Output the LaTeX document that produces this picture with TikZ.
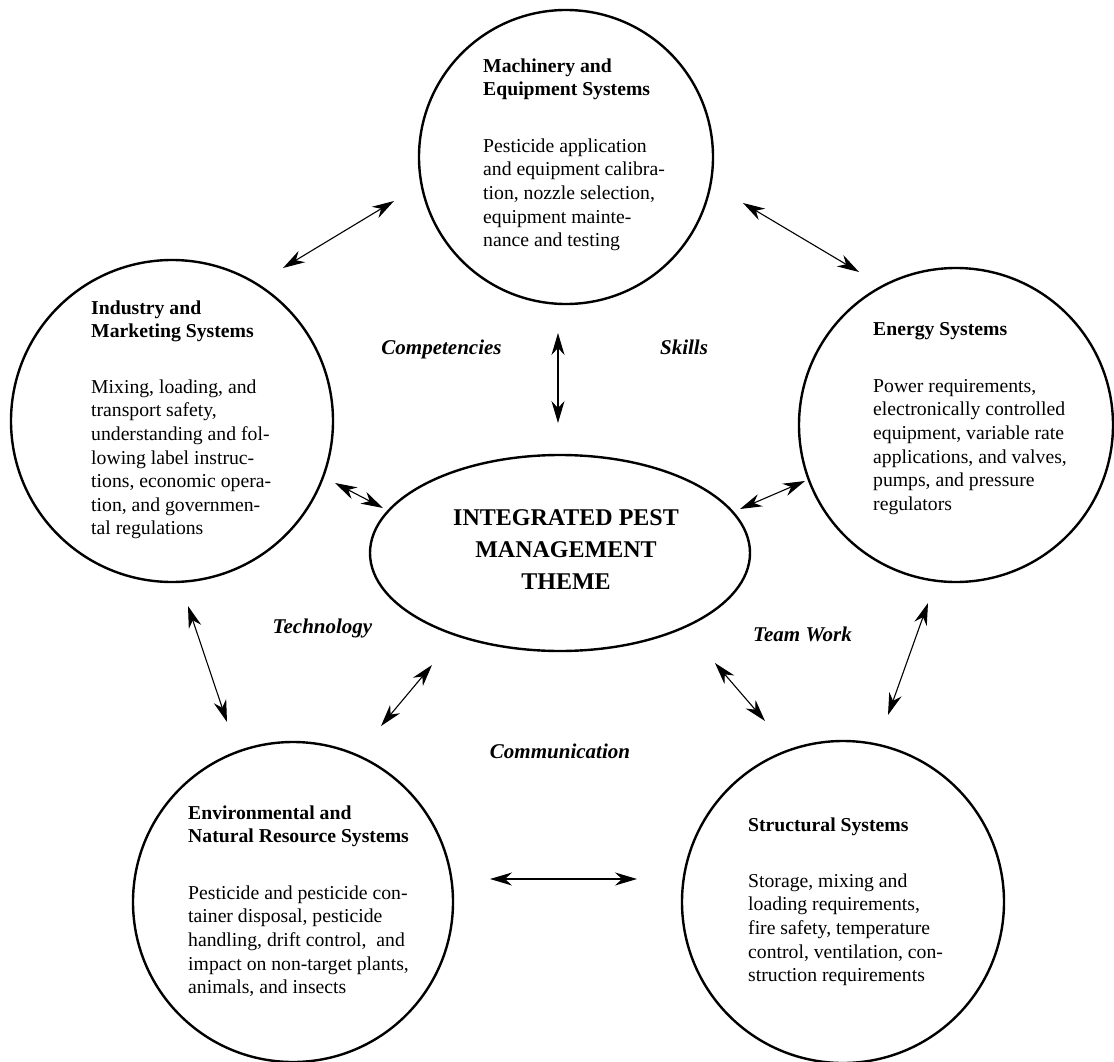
\documentclass[tikz,border=0pt]{standalone}
\usepackage{fontspec}
\setmainfont{Liberation Serif}
\usetikzlibrary{arrows.meta,shapes.geometric}
\newcommand\hdfont{\fontsize{19.7}{23.6}\selectfont\bfseries}
\newcommand\bdfont{\fontsize{19.7}{23.6}\selectfont}
\newcommand\lbfont{\fontsize{21}{25}\selectfont\bfseries\itshape}
\newcommand\ttlfont{\fontsize{24}{32}\selectfont\bfseries}
\begin{document}
\begin{tikzpicture}[x=1pt,y=-1pt,
  sys/.style={circle,draw,line width=2.4pt,inner sep=0pt},
  hd/.style={anchor=north west,inner sep=0pt,align=left,font=\hdfont},
  bd/.style={anchor=north west,inner sep=0pt,align=left,font=\bdfont},
  lbl/.style={anchor=base,inner sep=0pt,font=\lbfont},
  arr/.style={line width=1.1pt,{Stealth[length=22pt,width=13pt,inset=7pt]}-{Stealth[length=22pt,width=13pt,inset=7pt]}}]
\useasboundingbox (0,0) rectangle (1114,1062);

% circles
\node[sys,minimum size=294pt] (mach) at (566,157) {};
\node[sys,minimum size=322pt] (ind) at (172,421) {};
\node[sys,minimum size=314pt] (ene) at (956,425) {};
\node[sys,minimum size=320pt] (env) at (293,902) {};
\node[sys,minimum size=322pt] (str) at (843,902) {};
\node[ellipse,draw,line width=2.4pt,inner sep=0pt,minimum width=380pt,minimum height=196pt] (ipm) at (560,553) {};

% title
\node[anchor=north,inner sep=0pt,align=center,font=\ttlfont] (ttl) at (566,502.6) {\strut INTEGRATED PEST\\MANAGEMENT\\THEME};

% texts
\node[hd] (machh) at (483,55.5) {\strut Machinery and\\Equipment Systems};
\node[bd] (machb) at (483,135.5) {\strut Pesticide application\\and equipment calibra-\\tion, nozzle selection,\\equipment mainte-\\nance and testing};

\node[hd] (indh) at (91,297.5) {\strut Industry and\\Marketing Systems};
\node[bd] (indb) at (91,376.5) {\strut Mixing, loading, and\\transport safety,\\understanding and fol-\\lowing label instruc-\\tions, economic opera-\\tion, and governmen-\\tal regulations};

\node[hd] (eneh) at (873,318.5) {\strut Energy Systems};
\node[bd] (eneb) at (873,375.5) {\strut Power requirements,\\electronically controlled\\equipment, variable rate\\applications, and valves,\\pumps, and pressure\\regulators};

\node[hd] (envh) at (188,802.5) {\strut Environmental and\\Natural Resource Systems};
\node[bd] (envb) at (188,882.5) {\strut Pesticide and pesticide con-\\tainer disposal, pesticide\\handling, drift control,\ \ and\\impact on non-target plants,\\animals, and insects};

\node[hd] (strh) at (748,814.5) {\strut Structural Systems};
\node[bd] (strb) at (748,870.5) {\strut Storage, mixing and\\loading requirements,\\fire safety, temperature\\control, ventilation, con-\\struction requirements};

% labels
\node[lbl] (lcomp) at (441.5,354) {Competencies};
\node[lbl] (lskill) at (684,354) {Skills};
\node[lbl] (ltech) at (322.5,633) {Technology};
\node[lbl] (lteam) at (802.5,641) {Team Work};
\node[lbl] (lcomm) at (560,758) {Communication};

% arrow ends
\coordinate (a1s) at (394,201); \coordinate (a1e) at (283,268);
\coordinate (a2s) at (743,203); \coordinate (a2e) at (859,272);
\coordinate (a3s) at (558,333); \coordinate (a3e) at (558,423);
\coordinate (a4s) at (335,483); \coordinate (a4e) at (383,508);
\coordinate (a5s) at (805,481); \coordinate (a5e) at (740,509);
\coordinate (a6s) at (188,606); \coordinate (a6e) at (227,722);
\coordinate (a7s) at (928,603); \coordinate (a7e) at (888,715);
\coordinate (a8s) at (432,665); \coordinate (a8e) at (381,726);
\coordinate (a9s) at (715,663); \coordinate (a9e) at (765,721);
\coordinate (a10s) at (490,879); \coordinate (a10e) at (637,879);

\draw[arr] (a1s) -- (a1e);
\draw[arr] (a2s) -- (a2e);
\draw[arr] (a3s) -- (a3e);
\draw[arr] (a4s) -- (a4e);
\draw[arr] (a5s) -- (a5e);
\draw[arr] (a6s) -- (a6e);
\draw[arr] (a7s) -- (a7e);
\draw[arr] (a8s) -- (a8e);
\draw[arr] (a9s) -- (a9e);
\draw[arr] (a10s) -- (a10e);
\end{tikzpicture}
\end{document}
